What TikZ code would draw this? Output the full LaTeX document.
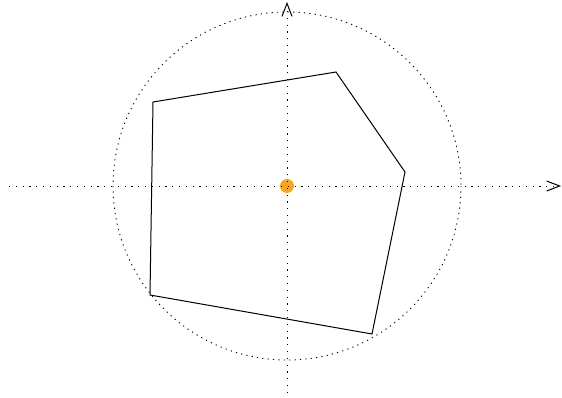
\documentclass[tikz,border=0pt]{standalone}
\usetikzlibrary{arrows.meta}
\definecolor{dotorange}{HTML}{F5A623}
\begin{document}
\begin{tikzpicture}[x=1pt,y=-1pt,
  axis/.style={line width=0.9pt,dash pattern=on 1.2pt off 5.6pt,-{Straight Barb[length=13pt,width=10pt,line width=1pt]}},
  ring/.style={line width=0.9pt,dash pattern=on 1.2pt off 4.2pt},
  poly/.style={line width=1pt,line join=miter}]
\useasboundingbox (0,0) rectangle (562,398);
\fill[dotorange] (287,186) circle (7);
\coordinate (o) at (287,186);
\coordinate (xl) at (9,186);
\coordinate (xr) at (561,186);
\coordinate (yb) at (287,393);
\coordinate (yt) at (287,2);
\draw[ring] (o) circle (174);
\draw[axis] (xl) -- (xr);
\draw[axis] (yb) -- (yt);
\coordinate (p1) at (153,102);
\coordinate (p2) at (336,72);
\coordinate (p3) at (405,172);
\coordinate (p4) at (372,334);
\coordinate (p5) at (150,295);
\draw[poly] (p1) -- (p2) -- (p3) -- (p4) -- (p5) -- cycle;
\end{tikzpicture}
\end{document}
